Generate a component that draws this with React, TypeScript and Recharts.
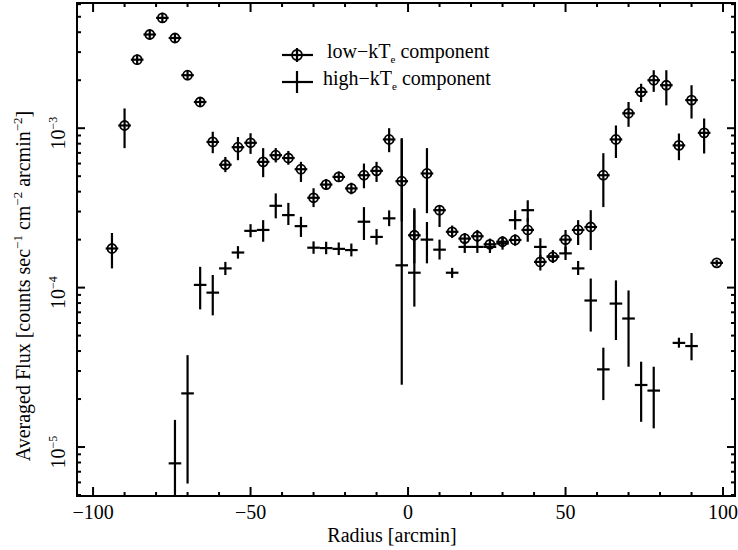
import React from 'react';
import { ScatterChart, Scatter, XAxis, YAxis, ErrorBar, Legend, ReferenceArea } from 'recharts';

// low-kTe component
const lowRadius = [-94, -90, -86, -82, -78, -74, -70, -66, -62, -58, -54, -50, -46, -42, -38, -34, -30, -26, -22, -18, -14, -10, -6, -2, 2, 6, 10, 14, 18, 22, 26, 30, 34, 38, 42, 46, 50, 54, 58, 62, 66, 70, 74, 78, 82, 86, 90, 94, 98];
const lowFlux = [1.76e-4, 1.04e-3, 2.69e-3, 3.87e-3, 4.92e-3, 3.68e-3, 2.15e-3, 1.46e-3, 8.2e-4, 5.9e-4, 7.6e-4, 8.1e-4, 6.15e-4, 6.77e-4, 6.5e-4, 5.53e-4, 3.66e-4, 4.43e-4, 4.95e-4, 4.19e-4, 5.07e-4, 5.4e-4, 8.5e-4, 4.65e-4, 2.13e-4, 5.2e-4, 3.06e-4, 2.24e-4, 2.03e-4, 2.1e-4, 1.87e-4, 1.94e-4, 1.99e-4, 2.3e-4, 1.45e-4, 1.56e-4, 2.0e-4, 2.3e-4, 2.4e-4, 5.07e-4, 8.5e-4, 1.24e-3, 1.69e-3, 2.0e-3, 1.86e-3, 7.8e-4, 1.5e-3, 9.35e-4, 1.43e-4];
const lowUpper = [2.2e-4, 1.33e-3, 2.9e-3, 4.15e-3, 5.3e-3, 3.95e-3, 2.3e-3, 1.57e-3, 9.5e-4, 6.6e-4, 8.8e-4, 9.3e-4, 7.5e-4, 7.5e-4, 7.2e-4, 6.15e-4, 4.2e-4, 4.8e-4, 5.35e-4, 4.55e-4, 6.0e-4, 6.15e-4, 1.0e-3, 8.65e-4, 3.06e-4, 7.5e-4, 3.29e-4, 2.45e-4, 2.2e-4, 2.3e-4, 2.03e-4, 2.1e-4, 2.16e-4, 2.72e-4, 1.6e-4, 1.7e-4, 2.3e-4, 2.65e-4, 3.06e-4, 6.97e-4, 1.04e-3, 1.46e-3, 1.9e-3, 2.31e-3, 2.31e-3, 9.26e-4, 1.86e-3, 1.15e-3, 1.49e-4];
const lowLower = [1.32e-4, 7.5e-4, 2.5e-3, 3.6e-3, 4.6e-3, 3.42e-3, 2.0e-3, 1.36e-3, 6.97e-4, 5.3e-4, 6.3e-4, 6.9e-4, 4.93e-4, 6.1e-4, 5.9e-4, 4.6e-4, 3.2e-4, 4.1e-4, 4.6e-4, 3.85e-4, 4.2e-4, 4.6e-4, 7.07e-4, 2.6e-4, 1.42e-4, 2.93e-4, 2.4e-4, 2.05e-4, 1.87e-4, 1.93e-4, 1.72e-4, 1.79e-4, 1.83e-4, 1.94e-4, 1.28e-4, 1.43e-4, 1.64e-4, 1.85e-4, 1.72e-4, 3.2e-4, 6.5e-4, 1.02e-3, 1.46e-3, 1.69e-3, 1.39e-3, 6.3e-4, 1.15e-3, 6.94e-4, 1.37e-4];

// high-kTe component
const highRadius = [-74, -70, -66, -62, -58, -54, -50, -46, -42, -38, -34, -30, -26, -22, -18, -14, -10, -6, -2, 2, 6, 10, 14, 18, 22, 26, 30, 34, 38, 42, 46, 50, 54, 58, 62, 66, 70, 74, 78, 86, 90];
const highFlux = [7.9e-6, 2.17e-5, 1.04e-4, 9.3e-5, 1.32e-4, 1.66e-4, 2.27e-4, 2.3e-4, 3.26e-4, 2.85e-4, 2.43e-4, 1.78e-4, 1.77e-4, 1.75e-4, 1.72e-4, 2.59e-4, 2.08e-4, 2.72e-4, 1.38e-4, 1.24e-4, 2.0e-4, 1.73e-4, 1.24e-4, 1.8e-4, 1.8e-4, 1.8e-4, 1.89e-4, 2.65e-4, 3.06e-4, 1.8e-4, 1.57e-4, 1.64e-4, 1.32e-4, 8.3e-5, 3.07e-5, 7.94e-5, 6.4e-5, 2.45e-5, 2.26e-5, 4.5e-5, 4.3e-5];
const highUpper = [1.48e-5, 3.77e-5, 1.35e-4, 1.2e-4, 1.45e-4, 1.82e-4, 2.5e-4, 2.65e-4, 3.9e-4, 3.4e-4, 2.78e-4, 1.95e-4, 1.94e-4, 1.92e-4, 1.89e-4, 3.2e-4, 2.33e-4, 3.05e-4, 8.6e-4, 3.15e-4, 2.58e-4, 2.0e-4, 1.33e-4, 1.96e-4, 1.96e-4, 1.96e-4, 2.06e-4, 3.06e-4, 3.53e-4, 2.04e-4, 1.72e-4, 1.8e-4, 1.47e-4, 1.14e-4, 4.2e-5, 1.11e-4, 9.6e-5, 3.43e-5, 3.19e-5, 4.85e-5, 5.19e-5];
const highLower = [4.95e-6, 5.9e-6, 7.3e-5, 6.7e-5, 1.2e-4, 1.52e-4, 2.07e-4, 1.94e-4, 2.72e-4, 2.47e-4, 2.08e-4, 1.63e-4, 1.62e-4, 1.6e-4, 1.57e-4, 1.99e-4, 1.86e-4, 2.43e-4, 2.46e-5, 7.6e-5, 1.42e-4, 1.5e-4, 1.15e-4, 1.65e-4, 1.65e-4, 1.65e-4, 1.73e-4, 2.31e-4, 2.58e-4, 1.49e-4, 1.43e-4, 1.49e-4, 1.2e-4, 5.3e-5, 1.97e-5, 4.69e-5, 3.19e-5, 1.44e-5, 1.31e-5, 4.2e-5, 3.5e-5];

const binHalfWidth = 2;

const xDomain = [-105.1, 103.8];
const yDomain = [4.93e-6, 6.1e-3];
const xTicks = [-100, -90, -80, -70, -60, -50, -40, -30, -20, -10, 0, 10, 20, 30, 40, 50, 60, 70, 80, 90, 100];
const yTicks = [
  5e-6, 6e-6, 7e-6, 8e-6, 9e-6,
  1e-5, 2e-5, 3e-5, 4e-5, 5e-5, 6e-5, 7e-5, 8e-5, 9e-5,
  1e-4, 2e-4, 3e-4, 4e-4, 5e-4, 6e-4, 7e-4, 8e-4, 9e-4,
  1e-3, 2e-3, 3e-3, 4e-3, 5e-3, 6e-3,
];

const W = 738;
const H = 550;
const PLOT_W = 658;
const PLOT_H = 493;
const FONT = '"Liberation Serif", "Times New Roman", serif';
const LW = 2.2;

const toRows = (xs: number[], ys: number[], up: number[], lo: number[]) =>
  xs.map((x, i) => ({
    x,
    y: ys[i],
    ey: [ys[i] - lo[i], up[i] - ys[i]],
    ex: binHalfWidth,
  }));

const lowData = toRows(lowRadius, lowFlux, lowUpper, lowLower);
const highData = toRows(highRadius, highFlux, highUpper, highLower);

const fmtX = (v: number) => (v < 0 ? `\u2212${-v}` : `${v}`);

const XTick = (props: any) => {
  const { x, y, payload } = props;
  const v = payload.value;
  const major = v % 50 === 0;
  const len = major ? 9 : 4;
  return (
    <g>
      <line x1={x} x2={x} y1={y} y2={y - len} stroke="#000" strokeWidth={2} />
      <line x1={x} x2={x} y1={y - PLOT_H} y2={y - PLOT_H + len} stroke="#000" strokeWidth={2} />
      {major && (
        <text x={x} y={y + 23} textAnchor="middle" fontFamily={FONT} fontSize={20} fill="#000">
          {fmtX(v)}
        </text>
      )}
    </g>
  );
};

const YTick = (props: any) => {
  const { x, y, payload } = props;
  const v = payload.value;
  const exp = Math.log10(v);
  const major = Math.abs(exp - Math.round(exp)) < 1e-6;
  const len = major ? 8 : 4;
  const lx = 65;
  const ly = y + 5;
  return (
    <g>
      <line x1={x} x2={x + len} y1={y} y2={y} stroke="#000" strokeWidth={2} />
      <line x1={x + PLOT_W} x2={x + PLOT_W - len} y1={y} y2={y} stroke="#000" strokeWidth={2} />
      {major && (
        <text
          x={lx}
          y={ly}
          transform={`rotate(-90, ${lx}, ${ly})`}
          textAnchor="middle"
          fontFamily={FONT}
          fontSize={20}
          fill="#000"
        >
          10
          <tspan dy={-8} fontSize={12}>{`\u2212${-Math.round(exp)}`}</tspan>
        </text>
      )}
    </g>
  );
};

const XLabel = () => (
  <text x={392} y={542} textAnchor="middle" fontFamily={FONT} fontSize={20} fill="#000">
    Radius [arcmin]
  </text>
);

const YLabel = () => {
  const cx = 30;
  const cy = 286;
  return (
    <text
      x={cx}
      y={cy}
      transform={`rotate(-90, ${cx}, ${cy})`}
      textAnchor="middle"
      fontFamily={FONT}
      fontSize={20}
      fill="#000"
    >
      Averaged Flux [counts sec
      <tspan dy={-8} fontSize={13}>{'\u22121'}</tspan>
      <tspan dy={8}> cm</tspan>
      <tspan dy={-8} fontSize={13}>{'\u22122'}</tspan>
      <tspan dy={8}> arcmin</tspan>
      <tspan dy={-8} fontSize={13}>{'\u22122'}</tspan>
      <tspan dy={8}>]</tspan>
    </text>
  );
};

const LowMarker = (props: any) => {
  const { cx, cy } = props;
  if (cx == null || cy == null) return <g />;
  return <circle cx={cx} cy={cy} r={4.5} fill="none" stroke="#000" strokeWidth={1.8} />;
};

const HighMarker = () => <g />;

const legendItems = [
  { main: 'low\u2212kT', sub: 'e', rest: ' component', circle: true },
  { main: 'high\u2212kT', sub: 'e', rest: ' component', circle: false },
];

const renderLegend = () => (
  <svg width={240} height={60}>
    {legendItems.map((item, i) => {
      const cy = 17 + i * 27;
      return (
        <g key={i}>
          <line x1={6} x2={37} y1={cy} y2={cy} stroke="#000" strokeWidth={LW} />
          {item.circle ? (
            <>
              <circle cx={21} cy={cy} r={5} fill="none" stroke="#000" strokeWidth={1.8} />
              <line x1={21} x2={21} y1={cy - 7} y2={cy + 7} stroke="#000" strokeWidth={LW} />
            </>
          ) : (
            <line x1={21} x2={21} y1={cy - 11} y2={cy + 11} stroke="#000" strokeWidth={LW} />
          )}
          <text x={item.circle ? 51 : 47} y={cy + 3} fontFamily={FONT} fontSize={20} fill="#000">
            {item.main}
            <tspan dy={5} fontSize={11}>{item.sub}</tspan>
            <tspan dy={-5}>{item.rest}</tspan>
          </text>
        </g>
      );
    })}
  </svg>
);

export default function App() {
  return (
    <div style={{ position: 'absolute', left: 0, top: 0, width: W, height: H, background: '#fff' }}>
      <ScatterChart width={W} height={H} margin={{ top: 3, right: 3, bottom: 0, left: 0 }}>
        <XAxis
          type="number"
          dataKey="x"
          domain={xDomain}
          allowDataOverflow
          ticks={xTicks}
          interval={0}
          tick={<XTick />}
          tickSize={0}
          tickMargin={0}
          tickLine={false}
          axisLine={false}
          height={54}
          label={<XLabel />}
        />
        <YAxis
          type="number"
          dataKey="y"
          scale="log"
          domain={yDomain}
          allowDataOverflow
          ticks={yTicks}
          interval={0}
          tick={<YTick />}
          tickSize={0}
          tickMargin={0}
          tickLine={false}
          axisLine={false}
          width={77}
          label={<YLabel />}
        />
        <ReferenceArea
          x1={xDomain[0]}
          x2={xDomain[1]}
          y1={yDomain[0]}
          y2={yDomain[1]}
          fill="none"
          stroke="#000"
          strokeWidth={2}
          ifOverflow="visible"
        />
        <Scatter name="low-kTe component" data={lowData} shape={<LowMarker />} isAnimationActive={false}>
          <ErrorBar dataKey="ey" direction="y" width={0} stroke="#000" strokeWidth={LW} isAnimationActive={false} />
          <ErrorBar dataKey="ex" direction="x" width={0} stroke="#000" strokeWidth={LW} isAnimationActive={false} />
        </Scatter>
        <Scatter name="high-kTe component" data={highData} shape={<HighMarker />} isAnimationActive={false}>
          <ErrorBar dataKey="ey" direction="y" width={0} stroke="#000" strokeWidth={LW} isAnimationActive={false} />
          <ErrorBar dataKey="ex" direction="x" width={0} stroke="#000" strokeWidth={LW} isAnimationActive={false} />
        </Scatter>
        <Legend
          layout="vertical"
          align="center"
          verticalAlign="middle"
          content={renderLegend}
          wrapperStyle={{ left: 276, top: 38, width: 240, height: 60 }}
        />
      </ScatterChart>
    </div>
  );
}
